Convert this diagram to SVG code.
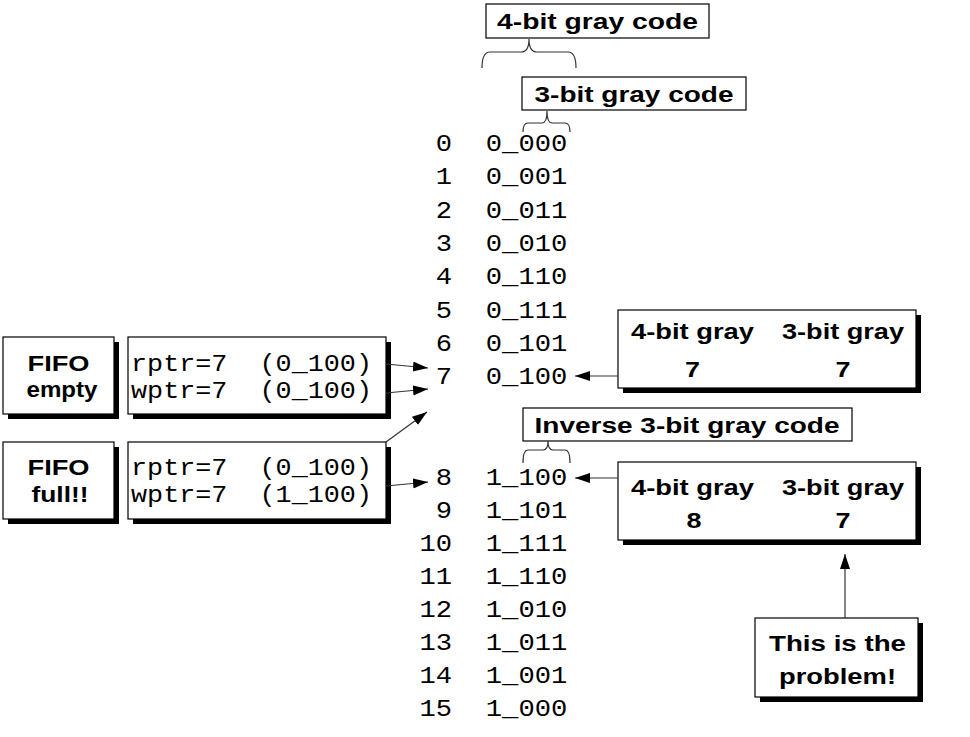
<svg xmlns="http://www.w3.org/2000/svg" width="970" height="737" viewBox="0 0 970 737">
<defs>
<style>
.sans{font-family:"Liberation Sans",Arial,sans-serif;font-weight:bold;font-size:22px;fill:#000}
.mono{font-family:"Liberation Mono","Courier New",monospace;font-size:23px;fill:#000}
.box{fill:#fff;stroke:#000;stroke-width:1.2}
.shadow{fill:#000}
.brace{fill:none;stroke:#333;stroke-width:1.2}
.conn{fill:none;stroke:#333;stroke-width:1.2;marker-end:url(#ah)}
.mid{text-anchor:middle}
</style>
<marker id="ah" markerUnits="userSpaceOnUse" markerWidth="16" markerHeight="12" refX="15" refY="5" orient="auto">
<path d="M0,0 L15,5 L0,10 z" fill="#000"/>
</marker>
</defs>
<rect width="970" height="737" fill="#fff"/>

<g id="label-4bit">
<rect class="box" x="486" y="4" width="223" height="34"/>
<text class="sans mid" x="597.5" y="29" textLength="201" lengthAdjust="spacingAndGlyphs">4-bit gray code</text>
<path class="brace" d="M482,68 Q482,52 490,52 L521,52 Q529,52 529,39 Q529,52 537,52 L568,52 Q576,52 576,68"/>
</g>

<g id="label-3bit">
<rect class="box" x="522" y="77" width="224" height="33"/>
<text class="sans mid" x="634" y="102" textLength="199" lengthAdjust="spacingAndGlyphs">3-bit gray code</text>
<path class="brace" d="M523,132 Q523,123 528,123 L542,123 Q547,123 547,111 Q547,123 552,123 L565,123 Q570,123 570,132"/>
</g>

<g id="label-inverse">
<rect class="box" x="523" y="408" width="329" height="33"/>
<text class="sans mid" x="687" y="433" textLength="305" lengthAdjust="spacingAndGlyphs">Inverse 3-bit gray code</text>
<path class="brace" d="M523,463 Q523,450 528,450 L543,450 Q548,450 548,441 Q548,450 553,450 L565,450 Q570,450 570,463"/>
</g>

<g id="table">
<g class="mono">
<text x="435.8" y="151" textLength="16.3" lengthAdjust="spacingAndGlyphs">0</text>
<text x="485.8" y="151" textLength="81.5" lengthAdjust="spacingAndGlyphs">0_000</text>
<text x="435.8" y="184.3" textLength="16.3" lengthAdjust="spacingAndGlyphs">1</text>
<text x="485.8" y="184.3" textLength="81.5" lengthAdjust="spacingAndGlyphs">0_001</text>
<text x="435.8" y="217.6" textLength="16.3" lengthAdjust="spacingAndGlyphs">2</text>
<text x="485.8" y="217.6" textLength="81.5" lengthAdjust="spacingAndGlyphs">0_011</text>
<text x="435.8" y="250.9" textLength="16.3" lengthAdjust="spacingAndGlyphs">3</text>
<text x="485.8" y="250.9" textLength="81.5" lengthAdjust="spacingAndGlyphs">0_010</text>
<text x="435.8" y="284.2" textLength="16.3" lengthAdjust="spacingAndGlyphs">4</text>
<text x="485.8" y="284.2" textLength="81.5" lengthAdjust="spacingAndGlyphs">0_110</text>
<text x="435.8" y="317.5" textLength="16.3" lengthAdjust="spacingAndGlyphs">5</text>
<text x="485.8" y="317.5" textLength="81.5" lengthAdjust="spacingAndGlyphs">0_111</text>
<text x="435.8" y="350.8" textLength="16.3" lengthAdjust="spacingAndGlyphs">6</text>
<text x="485.8" y="350.8" textLength="81.5" lengthAdjust="spacingAndGlyphs">0_101</text>
<text x="435.8" y="384.1" textLength="16.3" lengthAdjust="spacingAndGlyphs">7</text>
<text x="485.8" y="384.1" textLength="81.5" lengthAdjust="spacingAndGlyphs">0_100</text>
<text x="435.8" y="485" textLength="16.3" lengthAdjust="spacingAndGlyphs">8</text>
<text x="485.8" y="485" textLength="81.5" lengthAdjust="spacingAndGlyphs">1_100</text>
<text x="435.8" y="518" textLength="16.3" lengthAdjust="spacingAndGlyphs">9</text>
<text x="485.8" y="518" textLength="81.5" lengthAdjust="spacingAndGlyphs">1_101</text>
<text x="419.5" y="551" textLength="32.6" lengthAdjust="spacingAndGlyphs">10</text>
<text x="485.8" y="551" textLength="81.5" lengthAdjust="spacingAndGlyphs">1_111</text>
<text x="419.5" y="584" textLength="32.6" lengthAdjust="spacingAndGlyphs">11</text>
<text x="485.8" y="584" textLength="81.5" lengthAdjust="spacingAndGlyphs">1_110</text>
<text x="419.5" y="617" textLength="32.6" lengthAdjust="spacingAndGlyphs">12</text>
<text x="485.8" y="617" textLength="81.5" lengthAdjust="spacingAndGlyphs">1_010</text>
<text x="419.5" y="650" textLength="32.6" lengthAdjust="spacingAndGlyphs">13</text>
<text x="485.8" y="650" textLength="81.5" lengthAdjust="spacingAndGlyphs">1_011</text>
<text x="419.5" y="683" textLength="32.6" lengthAdjust="spacingAndGlyphs">14</text>
<text x="485.8" y="683" textLength="81.5" lengthAdjust="spacingAndGlyphs">1_001</text>
<text x="419.5" y="716" textLength="32.6" lengthAdjust="spacingAndGlyphs">15</text>
<text x="485.8" y="716" textLength="81.5" lengthAdjust="spacingAndGlyphs">1_000</text>
</g>
</g>

<g id="fifo-empty">
<rect class="shadow" x="8" y="342" width="111" height="77"/>
<rect class="box" x="3" y="337" width="111" height="77"/>
<text class="sans mid" x="58.5" y="371" textLength="62" lengthAdjust="spacingAndGlyphs">FIFO</text>
<text class="sans mid" x="62" y="397" textLength="71" lengthAdjust="spacingAndGlyphs">empty</text>
</g>

<g id="ptrs-empty">
<rect class="shadow" x="133" y="342" width="258" height="77"/>
<rect class="box" x="128" y="337" width="258" height="77"/>
<text class="mono" x="131" y="371" textLength="241" lengthAdjust="spacingAndGlyphs" xml:space="preserve">rptr=7  (0_100)</text>
<text class="mono" x="131" y="398" textLength="241" lengthAdjust="spacingAndGlyphs" xml:space="preserve">wptr=7  (0_100)</text>
</g>

<g id="fifo-full">
<rect class="shadow" x="8" y="447" width="111" height="77"/>
<rect class="box" x="3" y="442" width="111" height="77"/>
<text class="sans mid" x="58.5" y="475" textLength="62" lengthAdjust="spacingAndGlyphs">FIFO</text>
<text class="sans mid" x="60" y="502" textLength="57" lengthAdjust="spacingAndGlyphs">full!!</text>
</g>

<g id="ptrs-full">
<rect class="shadow" x="133" y="447" width="258" height="77"/>
<rect class="box" x="128" y="442" width="258" height="77"/>
<text class="mono" x="131" y="475" textLength="241" lengthAdjust="spacingAndGlyphs" xml:space="preserve">rptr=7  (0_100)</text>
<text class="mono" x="131" y="502" textLength="241" lengthAdjust="spacingAndGlyphs" xml:space="preserve">wptr=7  (1_100)</text>
</g>

<g id="info-7">
<rect class="shadow" x="623" y="315" width="298" height="78"/>
<rect class="box" x="618" y="310" width="298" height="78"/>
<text class="sans mid" x="692.5" y="339" textLength="123" lengthAdjust="spacingAndGlyphs">4-bit gray</text>
<text class="sans mid" x="843" y="339" textLength="122" lengthAdjust="spacingAndGlyphs">3-bit gray</text>
<text class="sans mid" x="692.5" y="377" textLength="15" lengthAdjust="spacingAndGlyphs">7</text>
<text class="sans mid" x="843" y="377" textLength="15" lengthAdjust="spacingAndGlyphs">7</text>
</g>

<g id="info-8">
<rect class="shadow" x="623" y="467" width="298" height="78"/>
<rect class="box" x="618" y="462" width="298" height="78"/>
<text class="sans mid" x="692.5" y="495" textLength="123" lengthAdjust="spacingAndGlyphs">4-bit gray</text>
<text class="sans mid" x="843" y="495" textLength="122" lengthAdjust="spacingAndGlyphs">3-bit gray</text>
<text class="sans mid" x="694" y="528" textLength="15" lengthAdjust="spacingAndGlyphs">8</text>
<text class="sans mid" x="843" y="528" textLength="15" lengthAdjust="spacingAndGlyphs">7</text>
</g>

<g id="problem">
<rect class="shadow" x="760" y="623" width="163" height="79"/>
<rect class="box" x="755" y="618" width="163" height="79"/>
<text class="sans mid" x="837.5" y="651" textLength="137" lengthAdjust="spacingAndGlyphs">This is the</text>
<text class="sans mid" x="837.5" y="684" textLength="117" lengthAdjust="spacingAndGlyphs">problem!</text>
</g>

<g id="connectors">
<path class="conn" d="M386,364 L428,368"/>
<path class="conn" d="M386,393 L428,389"/>
<path class="conn" d="M386,442 L427,412"/>
<path class="conn" d="M386,486 L428,482"/>
<path class="conn" d="M618,376 L575,376"/>
<path class="conn" d="M618,478 L575,478"/>
<path class="conn" d="M845,618 L845,554"/>
</g>
</svg>
